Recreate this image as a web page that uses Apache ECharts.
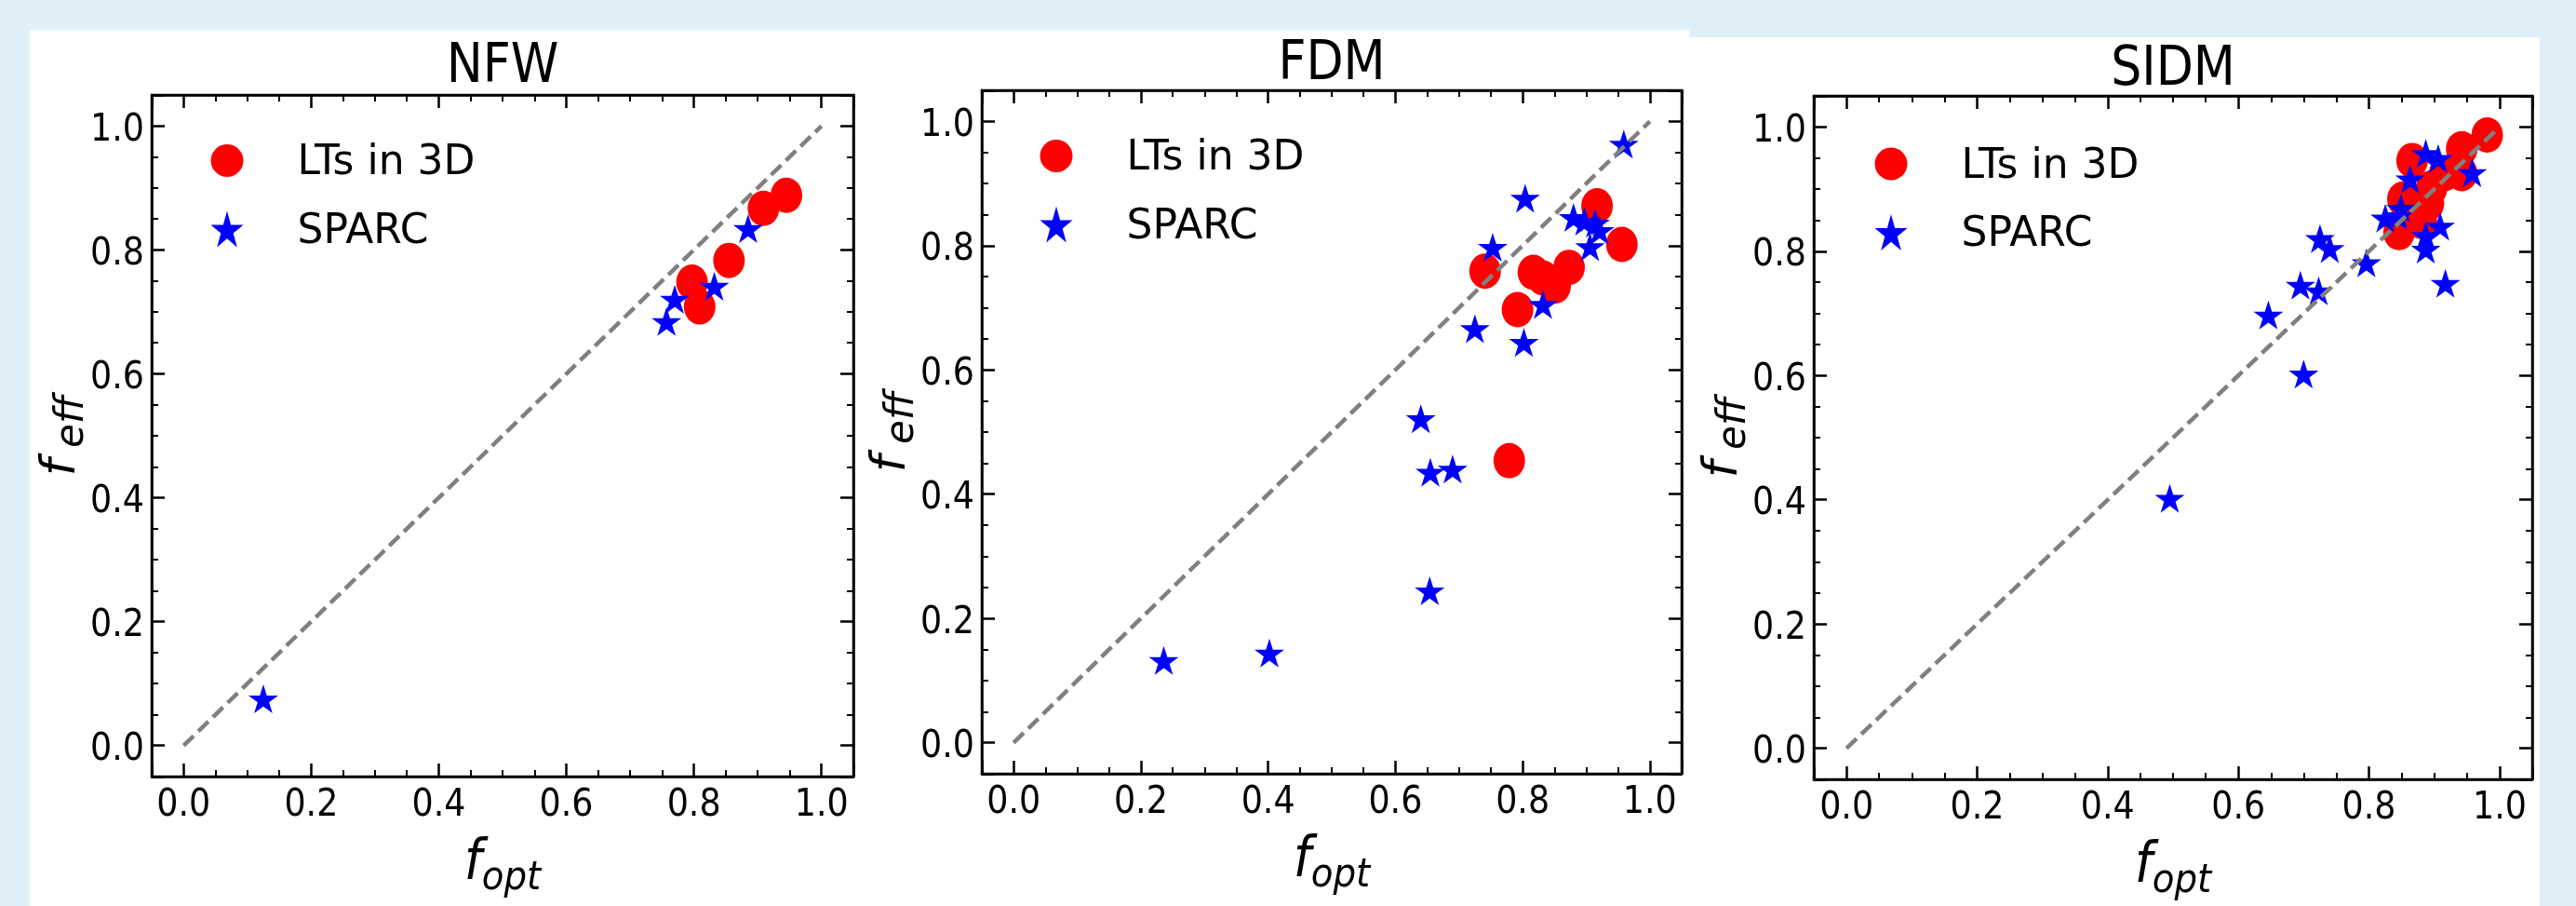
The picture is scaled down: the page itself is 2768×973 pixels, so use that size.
<!DOCTYPE html>
<html>
<head>
<meta charset="utf-8">
<script src="https://cdn.jsdelivr.net/npm/echarts@6.0.0/dist/echarts.min.js"></script>
<style>
html,body{margin:0;padding:0;background:#dff0f8;}
#chart{width:2768px;height:973px;}
</style>
</head>
<body>
<div id="chart"></div>
<script>
// ---------- DATA ----------
const panelTitles = ['NFW', 'FDM', 'SIDM'];
const seriesNames = ['LTs in 3D', 'SPARC'];
const diagonal = [[0, 0], [1, 1]];

const nfwLT = [[0.797,0.748],[0.809,0.708],[0.855,0.783],[0.909,0.867],[0.945,0.888]];
const nfwSPARC = [[0.125,0.073],[0.757,0.682],[0.770,0.718],[0.832,0.739],[0.885,0.832]];

const fdmLT = [[0.741,0.759],[0.779,0.454],[0.792,0.697],[0.817,0.757],[0.832,0.748],
  [0.851,0.735],[0.873,0.765],[0.917,0.864],[0.956,0.802]];
const fdmSPARC = [[0.236,0.130],[0.402,0.142],[0.654,0.242],[0.640,0.519],[0.655,0.433],
  [0.690,0.438],[0.725,0.664],[0.753,0.795],[0.804,0.874],[0.802,0.642],[0.832,0.703],
  [0.880,0.843],[0.897,0.837],[0.914,0.834],[0.921,0.822],[0.906,0.796],[0.959,0.961]];

const sidmLT = [[0.846,0.830],[0.852,0.884],[0.866,0.946],[0.880,0.848],[0.891,0.877],
  [0.896,0.902],[0.916,0.925],[0.942,0.925],[0.942,0.965],[0.981,0.987]];
const sidmSPARC = [[0.495,0.400],[0.700,0.600],[0.646,0.695],[0.695,0.743],[0.723,0.734],
  [0.725,0.818],[0.740,0.802],[0.796,0.779],[0.825,0.851],[0.845,0.855],[0.849,0.867],
  [0.863,0.914],[0.887,0.955],[0.906,0.947],[0.958,0.924],[0.909,0.838],[0.887,0.823],
  [0.887,0.801],[0.917,0.746]];

const ltData = [nfwLT, fdmLT, sidmLT];
const sparcData = [nfwSPARC, fdmSPARC, sidmSPARC];

// ---------- STYLE / LAYOUT ----------
const FONT_C = "'DejaVu Sans Condensed', 'DejaVu Sans'";
const FONT_N = "'DejaVu Sans'";
const STAR = 'path://M100,0 L122.45,69.1 L195.11,69.1 L136.33,111.8 L158.78,180.9 L100,138.2 L41.22,180.9 L63.67,111.8 L4.89,69.1 L77.55,69.1 Z';
const grids = [
  {left:163, top:102, width:754, height:732},
  {left:1055, top:97, width:752, height:734},
  {left:1949, top:103, width:772, height:752}
];
const legendPos = [{left:226.5, top:147},{left:1117.5, top:142},{left:2014.5, top:150.5}];
const titlePos = [{x:540, top:44},{x:1431, top:41},{x:2335, top:47}];

function inRange(v){ return !(v < -1e-9 || v > 1 + 1e-9); }
function fmtX(v){ return inRange(v) ? v.toFixed(1) : ''; }
function fmtY(v){ return inRange(v) ? '{v|' + v.toFixed(1) + '}' : ''; }
const tickFont = {fontSize:40.5, fontFamily:FONT_C, color:'#000'};
const xNameRich = {
  f: {fontSize:60, fontStyle:'italic', fontFamily:FONT_C, color:'#000'},
  s: {fontSize:43, fontStyle:'italic', fontFamily:FONT_C, color:'#000', padding:[30,0,0,0]}
};
const yNameRich = {
  f: {fontSize:52, fontStyle:'italic', fontFamily:FONT_N, color:'#000'},
  s: {fontSize:42, fontStyle:'italic', fontFamily:FONT_N, color:'#000', padding:[24,0,0,12]}
};

function baseAxis(gi, extra){
  return Object.assign({
    type:'value', gridIndex:gi, min:-0.05, max:1.05, splitNumber:5,
    splitLine:{show:false},
    axisLine:{show:true, onZero:false, lineStyle:{color:'#000', width:2.5}},
    axisTick:{show:true, inside:true, length:14, lineStyle:{color:'#000', width:2.5}},
    minorTick:{show:true, splitNumber:4, length:7, lineStyle:{color:'#000', width:2}},
    axisLabel:{show:false},
    nameMoveOverlap:false
  }, extra);
}

const option = {
  animation:false,
  backgroundColor:'#dff0f8',
  graphic:[
    {type:'rect', z:-100, shape:{x:32, y:32, width:1783, height:941}, style:{fill:'#ffffff'}},
    {type:'rect', z:-100, shape:{x:1815, y:40, width:914, height:933}, style:{fill:'#ffffff'}}
  ],
  title:[], grid:[], xAxis:[], yAxis:[], legend:[], series:[]
};

for (let i = 0; i < 3; i++) {
  option.title.push({
    text: panelTitles[i], left: titlePos[i].x, top: titlePos[i].top, textAlign:'center', padding:0,
    textStyle:{fontSize:58, fontWeight:'normal', fontFamily:FONT_C, color:'#000'}
  });
  option.grid.push(Object.assign({show:true, borderColor:'#000', borderWidth:2.5, backgroundColor:'transparent'}, grids[i]));
  option.xAxis.push(baseAxis(i, {
    position:'bottom',
    axisLabel:Object.assign({show:true, margin:10.5, formatter:fmtX}, tickFont),
    name:'{f|f}{s|opt}', nameLocation:'middle', nameGap:58, nameTextStyle:{rich:xNameRich}
  }));
  option.xAxis.push(baseAxis(i, {position:'top'}));
  option.yAxis.push(baseAxis(i, {
    position:'left',
    axisLabel:Object.assign({show:true, margin:8, formatter:fmtY,
      rich:{v:Object.assign({padding:[10,0,0,0]}, tickFont)}}, tickFont),
    name:'{f|f}{s|eff}', nameLocation:'middle', nameGap:64, nameRotate:90, nameTextStyle:{rich:yNameRich}
  }));
  option.yAxis.push(baseAxis(i, {position:'right'}));

  option.legend.push({
    data:[{name:seriesNames[0], icon:'circle'}, {name:seriesNames[1], icon:STAR}],
    orient:'vertical', left:legendPos[i].left, top:legendPos[i].top,
    itemWidth:35, itemHeight:39, itemGap:22.5, padding:0, selectedMode:false, symbolKeepAspect:false,
    formatter: name => '{a|' + name + '}',
    textStyle:{fontSize:44, fontFamily:FONT_N, color:'#000',
      rich:{a:{fontSize:44, fontFamily:FONT_N, color:'#000', lineHeight:44, padding:[7,0,0,53]}}}
  });

  option.series.push({
    type:'scatter', name:seriesNames[0], xAxisIndex:2*i, yAxisIndex:2*i,
    data: ltData[i], symbol:'circle', symbolSize:[34,38], z:2,
    itemStyle:{color:'#ff0000', opacity:1}
  });
  option.series.push({
    type:'scatter', name:seriesNames[1], xAxisIndex:2*i, yAxisIndex:2*i,
    data: sparcData[i], symbol:STAR, symbolSize:[32,31], symbolOffset:[0,'-5%'], z:3,
    itemStyle:{color:'#0000ff', opacity:1}
  });
  option.series.push({
    type:'line', name:'diag', xAxisIndex:2*i, yAxisIndex:2*i,
    data: diagonal, symbol:'none', z:4, silent:true,
    lineStyle:{color:'#808080', width:4.5, type:[15,7]}
  });
}

const chart = echarts.init(document.getElementById('chart'), null, {renderer:'canvas'});
chart.setOption(option);
</script>
</body>
</html>
